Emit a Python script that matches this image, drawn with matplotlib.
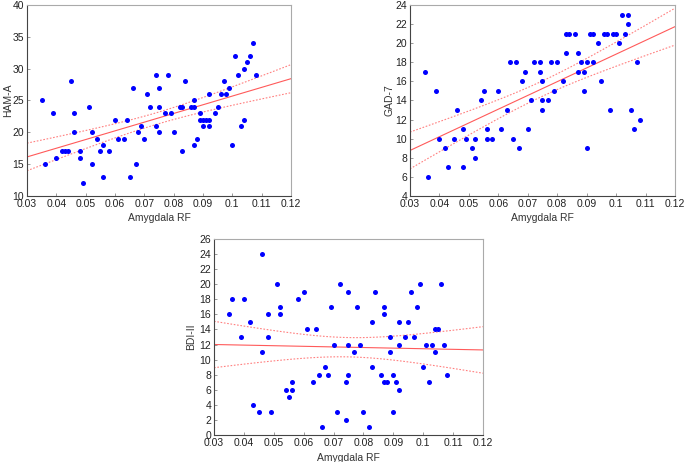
import numpy as np
import matplotlib.pyplot as plt

plt.rcParams['font.family'] = ['Liberation Sans', 'DejaVu Sans']
plt.rcParams['font.size'] = 7.5

# --- data ---
ham_x = [0.035, 0.036, 0.039, 0.040, 0.042, 0.043, 0.044, 0.045, 0.046, 0.046,
         0.048, 0.048, 0.049, 0.051, 0.052, 0.052, 0.054, 0.055, 0.056, 0.056,
         0.058, 0.060, 0.061, 0.063, 0.064, 0.065, 0.066, 0.067, 0.068, 0.069,
         0.070, 0.071, 0.072, 0.074, 0.074, 0.075, 0.075, 0.075, 0.077, 0.078,
         0.079, 0.080, 0.082, 0.083, 0.083, 0.084, 0.086, 0.087, 0.087, 0.087,
         0.088, 0.089, 0.089, 0.090, 0.091, 0.092, 0.090, 0.092, 0.092, 0.094,
         0.095, 0.096, 0.097, 0.098, 0.099, 0.100, 0.101, 0.102, 0.103, 0.104,
         0.104, 0.105, 0.106, 0.107, 0.108]
ham_y = [25, 15, 23, 16, 17, 17, 17, 28, 23, 20,
         17, 16, 12, 24, 20, 15, 19, 17, 18, 13,
         17, 22, 19, 19, 22, 13, 27, 15, 20, 21,
         19, 26, 24, 29, 21, 27, 24, 20, 23, 29,
         23, 20, 24, 24, 17, 28, 24, 24, 25, 18,
         19, 23, 22, 22, 22, 22, 21, 21, 26, 23,
         24, 26, 28, 26, 27, 18, 32, 29, 21, 30,
         22, 31, 32, 34, 29]

gad_x = [0.035, 0.036, 0.039, 0.040, 0.042, 0.043, 0.045, 0.046, 0.048, 0.048,
         0.049, 0.051, 0.052, 0.052, 0.054, 0.055, 0.056, 0.056, 0.058, 0.060,
         0.061, 0.063, 0.064, 0.065, 0.066, 0.067, 0.068, 0.069, 0.070, 0.071,
         0.072, 0.074, 0.074, 0.075, 0.075, 0.075, 0.077, 0.078, 0.079, 0.080,
         0.082, 0.083, 0.083, 0.084, 0.086, 0.087, 0.087, 0.088, 0.089, 0.089,
         0.090, 0.090, 0.091, 0.092, 0.092, 0.094, 0.095, 0.096, 0.097, 0.098,
         0.099, 0.100, 0.101, 0.102, 0.103, 0.104, 0.104, 0.105, 0.106, 0.107,
         0.108]
gad_y = [17, 6, 15, 10, 9, 7, 10, 13, 11, 7,
         10, 9, 10, 8, 14, 15, 11, 10, 10, 15,
         11, 13, 18, 10, 18, 9, 16, 17, 11, 14,
         18, 18, 17, 16, 14, 13, 14, 18, 15, 18,
         16, 19, 21, 21, 21, 19, 17, 18, 17, 15,
         18, 9, 21, 21, 18, 20, 16, 21, 21, 13,
         21, 21, 20, 23, 21, 23, 22, 13, 11, 18,
         12]

bdi_x = [0.035, 0.036, 0.039, 0.040, 0.042, 0.043, 0.045, 0.046, 0.046, 0.048,
         0.048, 0.049, 0.051, 0.052, 0.052, 0.054, 0.055, 0.056, 0.056, 0.058,
         0.060, 0.061, 0.063, 0.064, 0.065, 0.066, 0.067, 0.068, 0.069, 0.070,
         0.071, 0.072, 0.074, 0.074, 0.075, 0.075, 0.075, 0.077, 0.078, 0.079,
         0.080, 0.082, 0.083, 0.083, 0.084, 0.086, 0.087, 0.087, 0.087, 0.088,
         0.089, 0.089, 0.090, 0.090, 0.091, 0.092, 0.092, 0.092, 0.094, 0.095,
         0.096, 0.097, 0.098, 0.099, 0.100, 0.101, 0.102, 0.103, 0.104, 0.105,
         0.104, 0.106, 0.107, 0.108]
bdi_y = [16, 18, 13, 18, 15, 4, 3, 24, 11, 16,
         13, 3, 20, 17, 16, 6, 5, 7, 6, 18,
         19, 14, 7, 14, 8, 1, 9, 8, 17, 12,
         3, 20, 7, 2, 19, 12, 8, 11, 17, 12,
         3, 1, 15, 9, 19, 8, 17, 16, 7, 7,
         13, 11, 8, 3, 7, 15, 12, 6, 13, 15,
         19, 13, 17, 20, 9, 12, 7, 12, 14, 14,
         11, 20, 12, 8]

x_ticks = [0.03, 0.04, 0.05, 0.06, 0.07, 0.08, 0.09, 0.1, 0.11, 0.12]
x_ticklabels = ['0.03', '0.04', '0.05', '0.06', '0.07', '0.08', '0.09', '0.1', '0.11', '0.12']


def panel(ax, x, y, ylabel, ylim, ystep, ylab_x):
    x = np.array(x)
    y = np.array(y)
    ax.scatter(x, y, s=13, color='#0000ff', zorder=3, linewidths=0)

    # least squares line with 95% confidence band
    b, a = np.polyfit(x, y, 1)
    n = len(x)
    xs = np.linspace(0.03, 0.12, 100)
    fit = a + b * xs
    resid = y - (a + b * x)
    s = np.sqrt(np.sum(resid ** 2) / (n - 2))
    se = s * np.sqrt(1 / n + (xs - x.mean()) ** 2 / np.sum((x - x.mean()) ** 2))
    t = 1.99
    ax.plot(xs, fit, color='#ff5a5a', lw=0.8, zorder=2)
    ax.plot(xs, fit + t * se, color='#ff8080', lw=0.8, ls=(0, (1.5, 1.5)), zorder=2)
    ax.plot(xs, fit - t * se, color='#ff8080', lw=0.8, ls=(0, (1.5, 1.5)), zorder=2)

    ax.set_xlim(0.03, 0.12)
    ax.set_ylim(*ylim)
    ax.set_xticks(x_ticks)
    ax.set_xticklabels(x_ticklabels)
    ax.set_yticks(np.arange(ylim[0], ylim[1] + 0.1, ystep))
    ax.tick_params(direction='in', length=2, width=0.6, color='#888888',
                   labelcolor='#222222', pad=2)
    for side in ['left', 'bottom']:
        ax.spines[side].set_color('#444444')
        ax.spines[side].set_linewidth(0.8)
    for side in ['top', 'right']:
        ax.spines[side].set_color('#aaaaaa')
        ax.spines[side].set_linewidth(0.8)
    ax.set_xlabel('Amygdala RF', color='#333333')
    ax.set_ylabel(ylabel, color='#333333')
    ax.xaxis.set_label_coords(0.5, -0.115)
    ax.yaxis.set_label_coords(ylab_x, 0.5)
    ax.xaxis.label.set_va('center')
    ax.yaxis.label.set_va('center')


fig = plt.figure(figsize=(6.85, 4.62), dpi=100)
ax1 = fig.add_axes([0.0394, 0.5758, 0.3854, 0.4134])
ax2 = fig.add_axes([0.5985, 0.5758, 0.3869, 0.4134])
ax3 = fig.add_axes([0.3124, 0.0584, 0.3927, 0.4242])

panel(ax1, ham_x, ham_y, 'HAM-A', (10, 40), 5, -0.072)
panel(ax2, gad_x, gad_y, 'GAD-7', (4, 24), 2, -0.079)
panel(ax3, bdi_x, bdi_y, 'BDI-II', (0, 26), 2, -0.085)

plt.savefig('out.png', dpi=100)
